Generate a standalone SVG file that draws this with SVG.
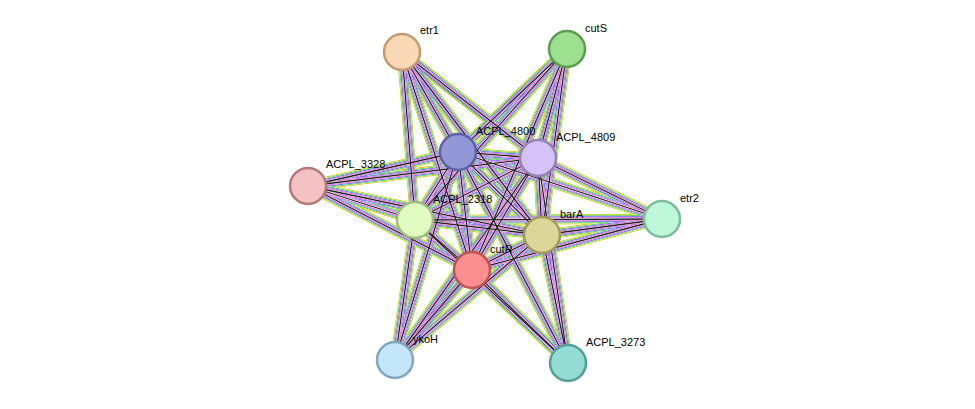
<svg xmlns="http://www.w3.org/2000/svg" xmlns:xlink="http://www.w3.org/1999/xlink" width="975" height="409" viewBox="0 0 975 409">
<style>
.n{stroke-width:2.5}
.t{font-family:"Liberation Sans",Arial,sans-serif;font-size:11px;fill:#000}
#E line{fill:none}
</style>
<defs>
<g id="E">
<line x1="402" y1="52" x2="458" y2="152"/><line x1="402" y1="52" x2="538" y2="158"/><line x1="402" y1="52" x2="542" y2="235"/><line x1="402" y1="52" x2="415" y2="220"/><line x1="402" y1="52" x2="472" y2="270"/>
<line x1="567" y1="49" x2="458" y2="152"/><line x1="567" y1="49" x2="538" y2="158"/><line x1="567" y1="49" x2="415" y2="220"/><line x1="567" y1="49" x2="472" y2="270"/><line x1="567" y1="49" x2="542" y2="235"/>
<line x1="308" y1="186" x2="458" y2="152"/><line x1="308" y1="186" x2="538" y2="158"/><line x1="308" y1="186" x2="415" y2="220"/><line x1="308" y1="186" x2="542" y2="235"/><line x1="308" y1="186" x2="472" y2="270"/>
<line x1="662" y1="219" x2="458" y2="152"/><line x1="662" y1="219" x2="538" y2="158"/><line x1="662" y1="219" x2="415" y2="220"/><line x1="662" y1="219" x2="542" y2="235"/><line x1="662" y1="219" x2="472" y2="270"/>
<line x1="395" y1="360" x2="415" y2="220"/><line x1="395" y1="360" x2="472" y2="270"/><line x1="395" y1="360" x2="458" y2="152"/><line x1="395" y1="360" x2="538" y2="158"/><line x1="395" y1="360" x2="542" y2="235"/>
<line x1="568" y1="363" x2="472" y2="270"/><line x1="568" y1="363" x2="542" y2="235"/><line x1="568" y1="363" x2="538" y2="158"/><line x1="568" y1="363" x2="458" y2="152"/><line x1="568" y1="363" x2="415" y2="220"/>
<line x1="458" y1="152" x2="538" y2="158"/><line x1="458" y1="152" x2="415" y2="220"/><line x1="458" y1="152" x2="542" y2="235"/><line x1="458" y1="152" x2="472" y2="270"/>
<line x1="538" y1="158" x2="415" y2="220"/><line x1="538" y1="158" x2="542" y2="235"/><line x1="538" y1="158" x2="472" y2="270"/>
<line x1="415" y1="220" x2="542" y2="235"/><line x1="415" y1="220" x2="472" y2="270"/><line x1="542" y1="235" x2="472" y2="270"/>
</g>
</defs>
<rect width="975" height="409" fill="#fff"/>
<g id="connectors">
<use xlink:href="#E" stroke="#c8c800" stroke-width="10"/>
<use xlink:href="#E" stroke="#fff" stroke-width="8.5"/>
<use xlink:href="#E" stroke="#00bb00" stroke-width="7.5"/>
<use xlink:href="#E" stroke="#fff" stroke-width="6.5"/>
<use xlink:href="#E" stroke="#2222ee" stroke-width="5.5"/>
<use xlink:href="#E" stroke="#fff" stroke-width="4.5"/>
<use xlink:href="#E" stroke="#cc22cc" stroke-width="3.5"/>
<use xlink:href="#E" stroke="#fff" stroke-width="2.5"/>
<use xlink:href="#E" stroke="#222" stroke-width="1.3"/>
</g>
<g id="etr1"><circle class="n" cx="402" cy="52" r="18" fill="#f9d8b6" stroke="#c29a74"/><text class="t" x="420" y="34">etr1</text></g>
<g id="cutS"><circle class="n" cx="567" cy="49" r="18" fill="#9de08f" stroke="#5a9e50"/><text class="t" x="585" y="32">cutS</text></g>
<g id="ACPL_4800"><circle class="n" cx="458" cy="152" r="18" fill="#9297d7" stroke="#5b62a6"/><text class="t" x="476" y="135">ACPL_4800</text></g>
<g id="ACPL_4809"><circle class="n" cx="538" cy="158" r="18" fill="#d5c2f7" stroke="#9583b5"/><text class="t" x="556" y="141">ACPL_4809</text></g>
<g id="ACPL_3328"><circle class="n" cx="308" cy="186" r="18" fill="#f4c2c2" stroke="#b47a7a"/><text class="t" x="326" y="168">ACPL_3328</text></g>
<g id="etr2"><circle class="n" cx="662" cy="219" r="18" fill="#bff7da" stroke="#7dbd99"/><text class="t" x="680" y="202">etr2</text></g>
<g id="ACPL_2318"><circle class="n" cx="415" cy="220" r="18" fill="#e0fcc1" stroke="#9fbc80"/><text class="t" x="433" y="203">ACPL_2318</text></g>
<g id="barA"><circle class="n" cx="542" cy="235" r="18" fill="#dcd698" stroke="#a09a5a"/><text class="t" x="560" y="218">barA</text></g>
<g id="cutR"><circle class="n" cx="472" cy="270" r="18" fill="#fb8e8e" stroke="#c05555"/><text class="t" x="490" y="253">cutR</text></g>
<g id="ykoH"><circle class="n" cx="395" cy="360" r="18" fill="#c4e6fb" stroke="#82a6bd"/><text class="t" x="413" y="343">ykoH</text></g>
<g id="ACPL_3273"><circle class="n" cx="568" cy="363" r="18" fill="#93ddd4" stroke="#52a096"/><text class="t" x="586" y="346">ACPL_3273</text></g>
</svg>
